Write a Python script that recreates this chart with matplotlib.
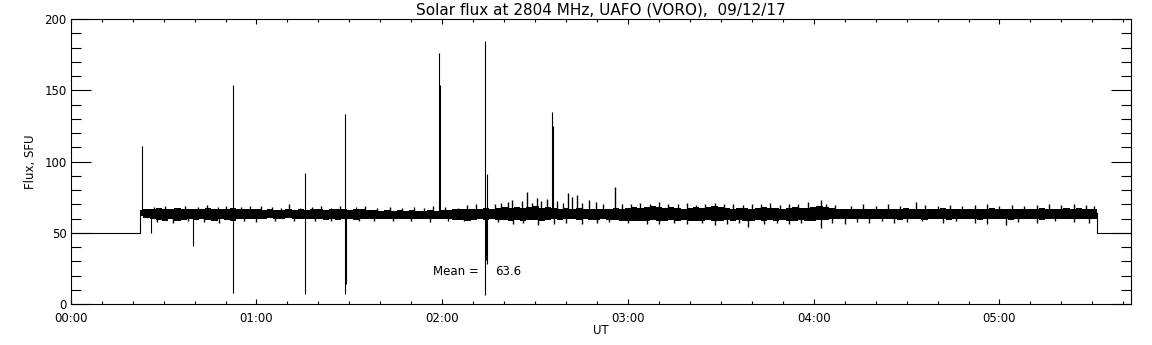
import numpy as np
import matplotlib
matplotlib.use('Agg')
import matplotlib.pyplot as plt
from matplotlib.ticker import MultipleLocator, FixedLocator

# time in minutes after 00:00 UT, flux in SFU
pre_t = [0, 22.5, 22.5]
pre_v = [50, 50, 64]
post_t = [331.6, 331.6, 342.5]
post_v = [64, 50, 50]

# dense core of the noisy record (read every ~2 min)
band_hi = [66, 66.5, 67, 67.5, 66.5, 67, 67.5, 66.5, 67,
           66.5, 67, 67.5, 67, 66.5, 67, 67.5, 67, 66.5, 67, 66.5, 66, 66.5, 66, 66, 66.5, 66, 66.5, 66, 66.5,
           66.5, 66, 66.5, 67, 66.5, 66, 66.5, 66.5, 66, 66, 65.5, 66, 65.5, 66, 65.5, 66, 65.5, 65.5, 66, 65.5,
           66, 66, 66.5, 66.5, 67, 66.5, 67, 67.5, 67, 67.5, 68, 67.5, 68, 67.5, 68, 68.5, 67.5, 68, 67.5, 67,
           67.5, 67, 67.5, 67, 66.5, 67, 66.5, 67, 67.5, 67,
           67.5, 68, 67.5, 68, 68.5, 68, 67.5, 68, 67.5, 67, 67.5, 68, 67.5, 68, 68.5, 68, 67.5, 67, 67.5, 67.5,
           67, 67.5, 68, 67.5, 67.5, 67, 67.5, 68, 67.5, 67.5, 68, 68.5, 68, 67.5, 67, 67, 66.5, 67, 66.5, 67,
           66.5, 67, 66.5, 67, 67, 67.5, 67, 66.5, 67, 66.5, 67, 67.5, 67, 66.5, 67, 66.5, 67, 66.5, 67, 67.5,
           67, 66.5, 67, 66.5, 67, 66.5, 67, 67.5, 67, 66.5, 67, 67.5, 67, 67.5, 67, 67, 66.5]
band_lo = [62, 60.5, 59.5, 59, 58.5, 59.5, 58.5, 59, 59.5,
           59, 59.5, 59, 58.5, 59.5, 59, 58.5, 59.5, 60, 59.5, 60, 60, 60.5, 60, 60, 60.5, 60, 59.5, 60, 59.5,
           59.5, 59, 59.5, 59, 59.5, 59.5, 59, 59.5, 60, 60, 59.5, 60, 60, 59.5, 60, 59.5, 60, 59.5, 59.5, 60,
           59.5, 59.5, 59, 59, 58.5, 59, 59.5, 59, 59.5, 59, 59, 58.5, 59, 58.5, 59, 59, 58.5, 59, 59.5, 59,
           59.5, 59.5, 59, 59.5, 59, 59, 59.5, 59, 59, 58.5,
           58.5, 58.5, 58, 58.5, 59, 58.5, 58.5, 59, 58.5, 59, 58.5, 58, 58.5, 59, 58, 58.5, 59, 58.5, 59, 58.5,
           58.5, 59, 58.5, 59, 58.5, 59, 58.5, 58.5, 59, 58.5, 58.5, 59, 59, 59.5, 59.5, 60, 59.5, 59.5, 60, 59.5,
           59.5, 60, 59.5, 59.5, 59, 59.5, 60, 59.5, 59, 59.5, 60, 59.5, 59, 59.5, 60, 59.5, 59.5, 59, 59.5, 60,
           59.5, 59.5, 59, 59.5, 60, 59.5, 59.5, 59, 59.5, 60, 59.5, 59.5, 60, 59.5, 59.5, 60, 59.5]
band_t = np.linspace(22.5, 331.6, len(band_hi))

# small excursions out of the band
up_t = [27, 30.5, 34, 37, 41, 44, 47.5, 50, 55, 58, 61.5, 65, 68, 70.5, 74, 78, 81, 84, 87, 92, 95, 99,
        103, 107, 111, 114, 117, 121, 125, 128, 131, 137, 139, 141.1, 142.6, 145.8, 147.5, 149, 150.7, 152,
        153.7, 157, 159, 160.7, 162, 163.4, 165, 167.5, 169.8, 172, 175.8, 178, 181, 184, 187, 190, 193,
        196, 199, 202, 205, 208, 211, 214, 217, 220, 223, 226, 229, 232, 235, 238, 242.2, 244, 247, 252,
        256, 260, 264, 268, 273, 276, 280, 284, 288, 292, 296, 300, 304, 308, 312, 316, 320, 324, 328, 330.5]
up_v = [68, 68.5, 67.5, 68.5, 68, 69.5, 68, 69, 68, 68.5, 69, 68, 67.5, 70.5, 67.5, 68, 68.5, 67.5, 69, 68,
        68.5, 67.5, 68, 67.5, 68, 67.5, 68.5, 68, 67.5, 69.5, 70, 70, 71, 71.8, 73, 72, 78.4, 71, 74.6, 72,
        74, 72, 71, 77.7, 75.3, 76.5, 71, 73, 71.8, 70, 82.3, 70, 70.5, 71, 70, 71.5, 70, 70.5, 71, 69.5,
        70, 71, 70, 70.5, 69.5, 70.5, 70, 71, 69.5, 70, 70.5, 71.5, 73, 70, 69.5, 69, 70, 69, 70, 69, 71.8,
        69.5, 69, 69.5, 69, 69.5, 70, 69, 69.5, 69, 69.5, 70, 69.5, 70, 69.5, 69]
down_t = [28, 33, 38, 43, 48, 56, 60, 66, 72, 79, 84, 93, 98, 104, 110, 116, 122, 127, 138, 143, 146, 151,
          156, 160, 165, 170, 174, 180, 186, 190, 195, 199, 204, 208, 212, 216, 218.7, 224, 228, 232, 236,
          242.2, 246, 250, 254, 258, 262, 266, 270, 275, 281.7, 286, 292, 296, 302, 306, 312, 318, 324, 329]
down_v = [57.5, 57, 58, 57.5, 57, 58, 57.5, 58, 58.5, 58, 58.5, 58, 58.5, 58, 58, 57.5, 58, 58, 57.5, 56.5,
          57, 55.5, 56, 57, 56.5, 57, 57.5, 57, 56, 56.5, 57, 56.5, 57, 55.5, 56, 57, 54, 56, 57, 56.5, 57,
          53, 57, 56.5, 57.5, 57, 58, 57, 57.5, 58, 57, 58, 57, 56.5, 55.4, 57.5, 57, 58, 57.5, 57]

# large bursts / interference spikes: time, bottom, top
spike_t = [22.9, 25.8, 39.6, 52.5, 75.8, 88.7, 89.0, 119.0, 119.3, 133.9, 134.2, 134.5, 155.4, 155.7]
spike_lo = [63, 50, 40.5, 8, 7, 7, 14, 62, 62, 6.5, 31, 27.8, 62, 62]
spike_hi = [111, 63, 63, 153.5, 92, 133, 63, 176.4, 154, 184.5, 63, 91.5, 134.7, 125]

mean_flux = 63.6

fig = plt.figure(figsize=(11.52, 3.45), dpi=100)
ax = fig.add_axes([0.0614, 0.1188, 0.9204, 0.8261])

lw = 0.8
ax.plot(pre_t, pre_v, color='black', lw=lw)
ax.plot(post_t, post_v, color='black', lw=lw)
ax.fill_between(band_t, band_lo, band_hi, step='mid', color='black', lw=0)
ax.vlines(up_t, 63, up_v, color='black', lw=1.0)
ax.vlines(down_t, down_v, 63, color='black', lw=1.0)
ax.vlines(spike_t, spike_lo, spike_hi, color='black', lw=lw)

ax.text(116.9, 22.5, 'Mean =', fontsize=8.5, va='center', ha='left')
ax.text(137.0, 22.5, '%.1f' % mean_flux, fontsize=8.5, va='center', ha='left')

ax.set_xlim(0, 342.5)
ax.set_ylim(0, 200)
ax.xaxis.set_major_locator(FixedLocator([0, 60, 120, 180, 240, 300]))
ax.set_xticklabels(['00:00', '01:00', '02:00', '03:00', '04:00', '05:00'])
ax.xaxis.set_minor_locator(MultipleLocator(10))
ax.yaxis.set_major_locator(MultipleLocator(50))
ax.yaxis.set_minor_locator(MultipleLocator(10))
ax.tick_params(axis='both', which='both', direction='in', top=True, right=True,
               width=0.8, labelsize=8.5, colors='black')
ax.tick_params(axis='y', which='major', length=14.4, pad=3)
ax.tick_params(axis='y', which='minor', length=7.2)
ax.tick_params(axis='x', which='major', length=3.8, pad=6)
ax.tick_params(axis='x', which='minor', length=2.2)
for s in ax.spines.values():
    s.set_linewidth(0.8)

ax.set_title('Solar flux at 2804 MHz, UAFO (VORO),  09/12/17', fontsize=11, pad=3)
ax.set_xlabel('UT', fontsize=8.5, labelpad=-1)
ax.set_ylabel('Flux, SFU', fontsize=8.5, labelpad=5)

fig.savefig('out.png', dpi=100)
